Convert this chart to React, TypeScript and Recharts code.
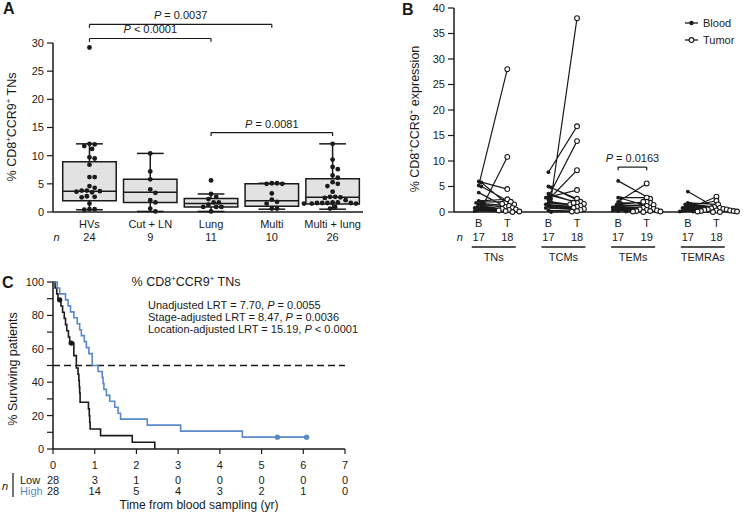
import React from "react";
import {
  ComposedChart,
  LineChart,
  Line,
  Scatter,
  XAxis,
  YAxis,
  ReferenceLine,
  ReferenceArea,
  Legend,
} from "recharts";

const FONT = "'Liberation Sans', Arial, Helvetica, sans-serif";
const INK = "#1a1a1a";
const BLUE = "#5a89c8";

// ---------- panel A data ----------
const groups = ["HVs", "Cut + LN", "Lung", "Multi", "Multi + lung"];
const groupN = [24, 9, 11, 10, 26];
const boxLow = [0.4, 0.1, 0.1, 0.5, 0.5];
const boxQ1 = [2.0, 1.7, 0.9, 1.0, 1.4];
const boxMedian = [3.7, 3.5, 1.5, 2.0, 2.6];
const boxQ3 = [8.9, 5.8, 2.4, 5.0, 5.9];
const boxHigh = [12.1, 10.4, 3.2, 5.1, 12.1];

const hvs = [29.2, 12.1, 12.0, 11.7, 11.2, 9.7, 9.5, 8.4, 6.2, 6.2, 4.6, 4.3, 3.8, 3.8, 3.7, 3.6, 3.5, 2.8, 2.7, 2.6, 1.5, 0.5, 0.5, 0.4];
const cutLn = [10.4, 7.2, 5.8, 4.0, 3.4, 2.1, 1.7, 0.6, 0.1];
const lung = [5.6, 3.2, 2.7, 2.3, 1.7, 1.7, 1.3, 0.9, 0.9, 0.9, 0.1];
const multi = [5.1, 5.1, 5.0, 5.0, 3.3, 2.2, 1.8, 1.5, 0.6, 0.6];
const multiLung = [12.1, 9.3, 8.0, 7.6, 6.5, 6.1, 5.3, 5.0, 4.6, 3.6, 2.7, 2.7, 2.6, 2.5, 2.1, 1.7, 1.7, 1.6, 1.6, 1.6, 1.6, 1.5, 1.5, 1.5, 0.9, 0.6];
const groupValues = [hvs, cutLn, lung, multi, multiLung];

const pvalsA = [
  { from: 0, to: 3, text: "= 0.0037" },
  { from: 0, to: 2, text: "< 0.0001" },
  { from: 2, to: 4, text: "= 0.0081" },
];

// ---------- panel B data (blood[i] paired with tumor[i]) ----------
const bGroups = ["TNs", "TCMs", "TEMs", "TEMRAs"];
const bBloodN = [17, 17, 17, 17];
const bTumorN = [18, 18, 19, 18];
const tnBlood = [6.0, 5.2, 5.8, 5.0, 3.8, 1.7, 2.2, 2.0, 1.8, 1.5, 1.2, 1.0, 0.8, 0.6, 0.5, 0.3, 0.2];
const tnTumor = [4.5, 28.0, 1.8, 1.5, 1.0, 10.8, 2.5, 2.0, 1.2, 0.8, 0.6, 0.5, 0.4, 0.3, 0.2, 0.1, 0.0, 1.6];
const tcmBlood = [7.8, 2.6, 3.0, 2.4, 2.8, 5.0, 4.8, 3.6, 3.2, 2.0, 1.8, 1.5, 1.2, 1.0, 0.8, 0.3, 0.0];
const tcmTumor = [16.8, 38.0, 13.9, 8.2, 4.3, 2.6, 2.0, 1.8, 1.6, 1.5, 1.2, 1.0, 0.8, 0.6, 0.4, 0.2, 0.1, 1.8];
const temBlood = [6.1, 2.0, 2.8, 2.7, 1.8, 1.5, 1.3, 1.2, 1.0, 0.9, 0.8, 0.6, 0.5, 0.4, 0.3, 0.2, 0.1];
const temTumor = [2.6, 5.6, 2.8, 1.0, 1.8, 2.0, 1.4, 1.2, 0.8, 0.6, 0.5, 0.4, 0.3, 0.2, 0.2, 0.1, 0.1, 2.0, 0.0];
const temraBlood = [4.0, 0.6, 0.8, 1.8, 1.6, 1.5, 1.3, 1.2, 1.0, 0.9, 0.7, 0.5, 0.4, 0.3, 0.2, 0.1, 0.1];
const temraTumor = [1.0, 3.0, 2.2, 1.5, 0.8, 0.7, 0.6, 0.5, 0.5, 0.4, 0.3, 0.3, 0.2, 0.2, 0.1, 0.1, 0.0, 0.0];
const bBlood = [tnBlood, tcmBlood, temBlood, temraBlood];
const bTumor = [tnTumor, tcmTumor, temTumor, temraTumor];

// ---------- panel C data ----------
const lowT = [0, 0.05, 0.09, 0.12, 0.19, 0.23, 0.27, 0.3, 0.33, 0.37, 0.4, 0.5, 0.56, 0.6, 0.62, 0.63, 0.64, 0.65, 0.85, 0.87, 0.88, 0.89, 1.14, 1.9, 2.44];
const lowS = [100, 96.4, 92.9, 89.3, 85.6, 81.9, 78.2, 74.5, 70.8, 67.1, 63.4, 55.9, 48.5, 44.8, 41.0, 37.3, 33.6, 28.0, 24.0, 20.0, 16.0, 12.0, 8.0, 4.0, 0];
const highT = [0, 0.1, 0.16, 0.3, 0.36, 0.42, 0.5, 0.58, 0.64, 0.68, 0.75, 0.8, 0.86, 0.94, 1.08, 1.18, 1.2, 1.22, 1.28, 1.36, 1.48, 1.56, 1.62, 2.26, 3.06, 4.54, 6.08];
const highS = [100, 96.4, 92.9, 89.3, 85.7, 82.1, 78.6, 75.0, 71.4, 67.9, 64.3, 60.7, 57.1, 50.0, 46.4, 42.9, 39.3, 35.7, 32.1, 28.6, 25.0, 21.4, 17.9, 14.3, 10.7, 7.1, 7.1];
const lowCensorT = [0.16, 0.44];
const lowCensorS = [89.3, 63.4];
const highCensorT = [5.38, 6.08];
const highCensorS = [7.1, 7.1];
const riskYears = [0, 1, 2, 3, 4, 5, 6, 7];
const lowAtRisk = [28, 3, 1, 0, 0, 0, 0, 0];
const highAtRisk = [28, 14, 5, 4, 3, 2, 1, 0];

// simple beeswarm: returns horizontal pixel offsets so dots don't overlap
function swarm(values: number[], pxY: number, gap: number): number[] {
  const order = values.map((_, i) => i).sort((a, b) => values[b] - values[a]);
  const placed: { x: number; y: number }[] = [];
  const out: number[] = new Array(values.length).fill(0);
  const step = gap * 0.5;
  order.forEach((i) => {
    const y = values[i] * pxY;
    for (let k = 0; k < 400; k++) {
      const cand = (k % 2 === 1 ? 1 : -1) * Math.ceil(k / 2) * step;
      if (placed.every((p) => Math.hypot(p.x - cand, p.y - y) >= gap)) {
        placed.push({ x: cand, y });
        out[i] = cand;
        break;
      }
    }
  });
  return out;
}

const pLabel = (text: string) => (props: any) => {
  const vb = props.viewBox || {};
  return (
    <text x={vb.x + (vb.width || 0) / 2} y={vb.y - 5} textAnchor="middle" fontSize={11} fill={INK}>
      <tspan fontStyle="italic">P</tspan>
      <tspan>{" " + text}</tspan>
    </text>
  );
};

// ---------- panel A ----------
const A_W = 400;
const A_H = 260;
const A_M = { top: 43, right: 37, bottom: 0, left: 20 };
const A_YW = 33;
const A_XH = 48;
const A_XDOM: [number, number] = [-0.6, 4.5];
const aPxX = (A_W - A_M.left - A_M.right - A_YW) / (A_XDOM[1] - A_XDOM[0]);
const aPxY = (A_H - A_M.top - A_XH) / 30;
const A_LEVELS = [33.3, 30.8, 14.1];

const aPoints = groupValues.flatMap((vals, g) => {
  const off = swarm(vals, aPxY, 5.2);
  return vals.map((v, i) => ({ x: g + off[i] / aPxX, y: v }));
});

function PanelA() {
  const seg = (x1: number, y1: number, x2: number, y2: number, key: string, w = 1.5) => (
    <ReferenceLine
      key={key}
      segment={[{ x: x1, y: y1 }, { x: x2, y: y2 }]}
      stroke={INK}
      strokeWidth={w}
      ifOverflow="visible"
    />
  );
  return (
    <ComposedChart width={A_W} height={A_H} margin={A_M}>
      <XAxis
        type="number"
        dataKey="x"
        domain={A_XDOM}
        ticks={[0, 1, 2, 3, 4]}
        interval={0}
        height={A_XH}
        tickLine={false}
        tickSize={0}
        tickMargin={0}
        axisLine={{ stroke: INK, strokeWidth: 1.5 }}
        tick={(p: any) => {
          const i = p.payload.value;
          return (
            <g>
              <text x={p.x} y={p.y + 16} textAnchor="middle" fontSize={11} fill={INK}>{groups[i]}</text>
              <text x={p.x} y={p.y + 29} textAnchor="middle" fontSize={11} fill={INK}>{groupN[i]}</text>
              {i === 0 && (
                <text x={p.x - 33} y={p.y + 29} textAnchor="middle" fontSize={11} fontStyle="italic" fill={INK}>n</text>
              )}
            </g>
          );
        }}
      />
      <YAxis
        type="number"
        domain={[0, 30]}
        ticks={[0, 5, 10, 15, 20, 25, 30]}
        interval={0}
        width={A_YW}
        tickSize={6}
        tickMargin={3}
        axisLine={{ stroke: INK, strokeWidth: 1.5 }}
        tickLine={{ stroke: INK, strokeWidth: 1.2 }}
        tick={{ fill: INK, fontSize: 11 }}
      />
      {groups.map((_, g) => seg(g, boxQ3[g], g, boxHigh[g], `wu${g}`))}
      {groups.map((_, g) => seg(g, boxLow[g], g, boxQ1[g], `wl${g}`))}
      {groups.map((_, g) => (
        <ReferenceArea
          key={`box${g}`}
          x1={g - 0.44}
          x2={g + 0.44}
          y1={boxQ1[g]}
          y2={boxQ3[g]}
          fill="#e2e2e2"
          fillOpacity={1}
          stroke={INK}
          strokeWidth={1.5}
        />
      ))}
      {groups.map((_, g) => seg(g - 0.44, boxMedian[g], g + 0.44, boxMedian[g], `md${g}`))}
      {groups.map((_, g) => seg(g - 0.22, boxHigh[g], g + 0.22, boxHigh[g], `cu${g}`))}
      {groups.map((_, g) => seg(g - 0.22, boxLow[g], g + 0.22, boxLow[g], `cl${g}`))}
      {pvalsA.map((b, k) => (
        <ReferenceLine
          key={`bh${k}`}
          segment={[{ x: b.from, y: A_LEVELS[k] }, { x: b.to, y: A_LEVELS[k] }]}
          stroke={INK}
          strokeWidth={1.2}
          ifOverflow="visible"
          label={pLabel(b.text)}
        />
      ))}
      {pvalsA.map((b, k) => seg(b.from, A_LEVELS[k], b.from, A_LEVELS[k] - 0.6, `bl${k}`, 1.2))}
      {pvalsA.map((b, k) => seg(b.to, A_LEVELS[k], b.to, A_LEVELS[k] - 0.6, `br${k}`, 1.2))}
      <Scatter
        data={aPoints}
        dataKey="y"
        isAnimationActive={false}
        shape={(p: any) => <circle cx={p.cx} cy={p.cy} r={2.4} fill={INK} />}
      />
    </ComposedChart>
  );
}

// ---------- panel B ----------
const B_W = 348;
const B_H = 270;
const B_M = { top: 8, right: 11, bottom: 0, left: 20 };
const B_YW = 34;
const B_XH = 58;
const B_XDOM: [number, number] = [-0.56, 3.31];
const bPxX = (B_W - B_M.left - B_M.right - B_YW) / (B_XDOM[1] - B_XDOM[0]);
const bPxY = (B_H - B_M.top - B_XH) / 40;
const B_HALF = 0.205;

const bSeries = bGroups.map((_, g) => {
  const blood = bBlood[g];
  const tumor = bTumor[g];
  const bo = swarm(blood, bPxY, 2.8);
  const to = swarm(tumor, bPxY, 3.6);
  const pts: { x: number; y: number | null; kind: string }[] = [];
  tumor.forEach((tv, i) => {
    const tx = g + B_HALF + to[i] / bPxX;
    if (i < blood.length) pts.push({ x: g - B_HALF + bo[i] / bPxX, y: blood[i], kind: "B" });
    pts.push({ x: tx, y: tv, kind: "T" });
    pts.push({ x: tx, y: null, kind: "gap" });
  });
  return pts;
});

const bTicks = bGroups.flatMap((_, g) => [g - B_HALF, g + B_HALF]);

const pairDot = (p: any) => {
  const { cx, cy, payload, index } = p;
  if (!payload || payload.y == null || cx == null || cy == null || isNaN(cy)) return <g key={`d${index}`} />;
  return payload.kind === "B" ? (
    <circle key={`d${index}`} cx={cx} cy={cy} r={1.9} fill={INK} />
  ) : (
    <circle key={`d${index}`} cx={cx} cy={cy} r={2.4} fill="#fff" stroke={INK} strokeWidth={1.1} />
  );
};

const BLegend = () => (
  <svg width={70} height={34} style={{ display: "block" }}>
    <line x1={1} x2={14} y1={7} y2={7} stroke={INK} strokeWidth={1.3} />
    <circle cx={7.5} cy={7} r={2.2} fill={INK} />
    <text x={19} y={11} fontSize={11} fill={INK}>Blood</text>
    <line x1={1} x2={14} y1={24} y2={24} stroke={INK} strokeWidth={1.3} />
    <circle cx={7.5} cy={24} r={2.4} fill="#fff" stroke={INK} strokeWidth={1.1} />
    <text x={19} y={28} fontSize={11} fill={INK}>Tumor</text>
  </svg>
);

function PanelB() {
  return (
    <LineChart width={B_W} height={B_H} margin={B_M}>
      <XAxis
        type="number"
        dataKey="x"
        domain={B_XDOM}
        ticks={bTicks}
        interval={0}
        height={B_XH}
        tickLine={false}
        tickSize={0}
        tickMargin={0}
        axisLine={{ stroke: INK, strokeWidth: 1.5 }}
        tick={(p: any) => {
          const v = p.payload.value;
          const idx = bTicks.findIndex((t) => Math.abs(t - v) < 1e-6);
          const g = Math.floor(idx / 2);
          const isT = idx % 2 === 1;
          const cx = p.x + B_HALF * bPxX;
          return (
            <g>
              <text x={p.x} y={p.y + 14.5} textAnchor="middle" fontSize={11} fill={INK}>{isT ? "T" : "B"}</text>
              <text x={p.x} y={p.y + 28.5} textAnchor="middle" fontSize={11} fill={INK}>
                {isT ? bTumorN[g] : bBloodN[g]}
              </text>
              {!isT && g === 0 && (
                <text x={p.x - 19} y={p.y + 28.5} textAnchor="middle" fontSize={11} fontStyle="italic" fill={INK}>n</text>
              )}
              {!isT && (
                <g>
                  <line x1={cx - 22} x2={cx + 22} y1={p.y + 35} y2={p.y + 35} stroke={INK} strokeWidth={1.3} />
                  <text x={cx} y={p.y + 49} textAnchor="middle" fontSize={11} fill={INK}>{bGroups[g]}</text>
                </g>
              )}
            </g>
          );
        }}
      />
      <YAxis
        type="number"
        domain={[0, 40]}
        ticks={[0, 5, 10, 15, 20, 25, 30, 35, 40]}
        interval={0}
        width={B_YW}
        tickSize={6}
        tickMargin={3}
        axisLine={{ stroke: INK, strokeWidth: 1.5 }}
        tickLine={{ stroke: INK, strokeWidth: 1.2 }}
        tick={{ fill: INK, fontSize: 11 }}
      />
      <ReferenceLine
        segment={[{ x: 2 - B_HALF, y: 8.8 }, { x: 2 + B_HALF, y: 8.8 }]}
        stroke={INK}
        strokeWidth={1.2}
        ifOverflow="visible"
        label={pLabel("= 0.0163")}
      />
      <ReferenceLine segment={[{ x: 2 - B_HALF, y: 8.8 }, { x: 2 - B_HALF, y: 8.2 }]} stroke={INK} strokeWidth={1.2} />
      <ReferenceLine segment={[{ x: 2 + B_HALF, y: 8.8 }, { x: 2 + B_HALF, y: 8.2 }]} stroke={INK} strokeWidth={1.2} />
      {bSeries.map((pts, g) => (
        <Line
          key={`pair${g}`}
          data={pts}
          dataKey="y"
          type="linear"
          stroke={INK}
          strokeWidth={1.2}
          connectNulls={false}
          dot={pairDot}
          activeDot={false}
          isAnimationActive={false}
        />
      ))}
      <Legend
        layout="horizontal"
        verticalAlign="middle"
        align="center"
        content={<BLegend />}
        wrapperStyle={{ position: "absolute", top: 16, left: 284, width: 70 }}
      />
    </LineChart>
  );
}

// ---------- panel C ----------
const C_W = 380;
const C_H = 256;
const C_M = { top: 22, right: 35, bottom: 0, left: 20 };
const lowCurve = lowT.map((t, i) => ({ t, s: lowS[i] }));
const highCurve = highT.map((t, i) => ({ t, s: highS[i] }));
const lowCensor = lowCensorT.map((t, i) => ({ t, s: lowCensorS[i] }));
const highCensor = highCensorT.map((t, i) => ({ t, s: highCensorS[i] }));

function PanelC() {
  return (
    <ComposedChart width={C_W} height={C_H} margin={C_M}>
      <XAxis
        type="number"
        dataKey="t"
        domain={[0, 7]}
        ticks={riskYears}
        interval={0}
        height={67}
        tickSize={5}
        tickMargin={0}
        axisLine={{ stroke: INK, strokeWidth: 1.5 }}
        tickLine={{ stroke: INK, strokeWidth: 1.2 }}
        tick={(p: any) => {
          const i = riskYears.indexOf(p.payload.value);
          return (
            <g>
              <text x={p.x} y={p.y + 15} textAnchor="middle" fontSize={11} fill={INK}>{p.payload.value}</text>
              <text x={p.x} y={p.y + 30} textAnchor="middle" fontSize={11} fill={INK}>{lowAtRisk[i]}</text>
              <text x={p.x} y={p.y + 41} textAnchor="middle" fontSize={11} fill={INK}>{highAtRisk[i]}</text>
              {i === 0 && (
                <g>
                  <text x={p.x - 48} y={p.y + 36} textAnchor="middle" fontSize={11} fontStyle="italic" fill={INK}>n</text>
                  <line x1={p.x - 40} x2={p.x - 40} y1={p.y + 19} y2={p.y + 43} stroke={INK} strokeWidth={1.2} />
                  <text x={p.x - 33} y={p.y + 30} fontSize={11} fill={INK}>Low</text>
                  <text x={p.x - 33} y={p.y + 41} fontSize={11} fill={BLUE}>High</text>
                </g>
              )}
              {i === 0 && (
                <text x={p.x + 146} y={p.y + 55} textAnchor="middle" fontSize={12} fill={INK}>
                  Time from blood sampling (yr)
                </text>
              )}
            </g>
          );
        }}
      />
      <YAxis
        type="number"
        domain={[0, 100]}
        ticks={[0, 10, 20, 30, 40, 50, 60, 70, 80, 90, 100]}
        interval={0}
        width={33}
        tickSize={6}
        tickMargin={3}
        axisLine={{ stroke: INK, strokeWidth: 1.5 }}
        tickLine={{ stroke: INK, strokeWidth: 1.2 }}
        tick={(p: any) =>
          p.payload.value % 20 === 0 ? (
            <text x={p.x} y={p.y + 4} textAnchor="end" fontSize={11} fill={INK}>{p.payload.value}</text>
          ) : (
            <g />
          )
        }
      />
      <ReferenceLine y={50} stroke={INK} strokeWidth={1.5} strokeDasharray="7 4" />
      <Line data={lowCurve} dataKey="s" type="stepAfter" stroke={INK} strokeWidth={1.6} dot={false} activeDot={false} isAnimationActive={false} />
      <Line data={highCurve} dataKey="s" type="stepAfter" stroke={BLUE} strokeWidth={1.6} dot={false} activeDot={false} isAnimationActive={false} />
      <Scatter data={lowCensor} dataKey="s" isAnimationActive={false} shape={(p: any) => <circle cx={p.cx} cy={p.cy} r={2.7} fill={INK} />} />
      <Scatter data={highCensor} dataKey="s" isAnimationActive={false} shape={(p: any) => <circle cx={p.cx} cy={p.cy} r={2.7} fill={BLUE} />} />
    </ComposedChart>
  );
}

// "% CD8+CCR9+ ..." with superscript plus signs
const cd8Title = (tail: string, size: number) => [
  <tspan key="a">% CD8</tspan>,
  <tspan key="b" dy={-size * 0.38} fontSize={size * 0.62}>+</tspan>,
  <tspan key="c" dy={size * 0.38}>CCR9</tspan>,
  <tspan key="d" dy={-size * 0.38} fontSize={size * 0.62}>+</tspan>,
  <tspan key="e" dy={size * 0.38}>{" " + tail}</tspan>,
];

export default function App() {
  return (
    <div
      style={{
        position: "fixed",
        left: 0,
        top: 0,
        width: 748,
        height: 516,
        background: "#fff",
        fontFamily: FONT,
        overflow: "hidden",
      }}
    >
      <div style={{ position: "absolute", left: 0, top: 0 }}>
        <PanelA />
      </div>
      <div style={{ position: "absolute", left: 400, top: 0 }}>
        <PanelB />
      </div>
      <div style={{ position: "absolute", left: 0, top: 260 }}>
        <PanelC />
      </div>
      <svg
        width={748}
        height={516}
        style={{ position: "absolute", left: 0, top: 0, pointerEvents: "none" }}
        fontFamily={FONT}
      >
        <text x={3} y={14} fontSize={16} fontWeight="bold" fill={INK}>A</text>
        <text x={402} y={15} fontSize={16} fontWeight="bold" fill={INK}>B</text>
        <text x={2} y={288} fontSize={16} fontWeight="bold" fill={INK}>C</text>
        <text transform="translate(16,127) rotate(-90)" textAnchor="middle" fontSize={12.5} fill={INK}>
          {cd8Title("TNs", 12.5)}
        </text>
        <text transform="translate(419,119) rotate(-90)" textAnchor="middle" fontSize={12.5} fill={INK}>
          {cd8Title("expression", 12.5)}
        </text>
        <text transform="translate(17,369) rotate(-90)" textAnchor="middle" fontSize={12.5} fill={INK}>
          % Surviving patients
        </text>
        <text x={186} y={286} textAnchor="middle" fontSize={12.5} fill={INK}>
          {cd8Title("TNs", 12.5)}
        </text>
        <text x={148} y={309} fontSize={11} fill={INK}>
          Unadjusted LRT = 7.70, <tspan fontStyle="italic">P</tspan> = 0.0055
        </text>
        <text x={148} y={321} fontSize={11} fill={INK}>
          Stage-adjusted LRT = 8.47, <tspan fontStyle="italic">P</tspan> = 0.0036
        </text>
        <text x={148} y={332.5} fontSize={11} fill={INK}>
          Location-adjusted LRT = 15.19, <tspan fontStyle="italic">P</tspan> &lt; 0.0001
        </text>
      </svg>
    </div>
  );
}
